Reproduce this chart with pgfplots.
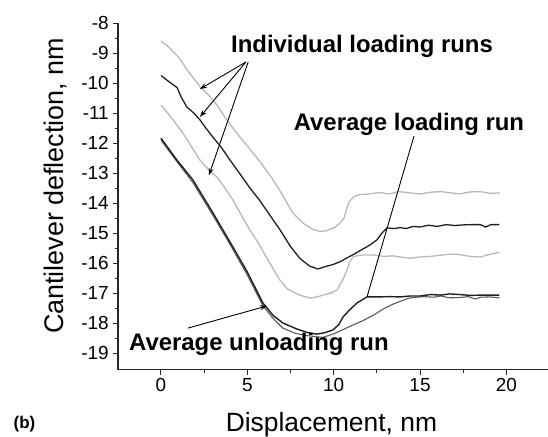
\documentclass[border=0pt]{standalone}
\usepackage{pgfplots}
\pgfplotsset{compat=1.18}
\usepackage{fontspec}
\setmainfont{Liberation Sans}
\usetikzlibrary{arrows.meta}

\definecolor{lightrun}{gray}{0.72}
\definecolor{darkrun}{gray}{0.12}
\definecolor{unloadrun}{gray}{0.35}

\begin{document}
\begin{tikzpicture}
\begin{axis}[
    x=17.27bp, y=30bp,
    xmin=-2.49, xmax=22.41, ymin=-19.56, ymax=-8,
    axis x line*=bottom, axis y line*=left,
    axis line style={line width=1.1pt, black!85},
    clip=false,
    xtick={0,5,10,15,20}, xticklabels={0,5,10,15,20},
    ytick={-19,-18,-17,-16,-15,-14,-13,-12,-11,-10,-9,-8},
    yticklabels={-19,-18,-17,-16,-15,-14,-13,-12,-11,-10,-9,-8},
    minor x tick num=1, minor y tick num=1,
    tick align=outside,
    major tick length=5bp, minor tick length=3bp,
    tick style={line width=1pt, black!85},
    ticklabel style={font=\fontsize{19}{21}\selectfont},
    xticklabel style={inner sep=1pt, yshift=-2bp},
    yticklabel style={inner sep=1pt, xshift=-3bp},
]
% individual loading run 1 (light)
\addplot[lightrun, line width=1.3pt] coordinates {
(0,-8.6) (0.35,-8.75) (0.7,-8.95) (1.1,-9.2) (1.5,-9.55) (1.9,-9.85) (2.3,-10.15) (2.75,-10.4) (3.2,-10.7) (3.6,-11.05) (4.1,-11.45) (4.5,-11.75) (5.0,-12.1) (5.5,-12.45) (5.9,-12.75) (6.4,-13.15) (6.9,-13.6) (7.3,-14.0) (7.6,-14.3) (8.0,-14.55) (8.3,-14.7) (8.8,-14.88) (9.2,-14.95) (9.6,-14.92) (10.1,-14.8) (10.4,-14.65) (10.6,-14.5) (10.75,-14.2) (10.9,-13.95) (11.2,-13.78) (11.5,-13.72) (12.0,-13.7) (12.7,-13.65) (13.2,-13.7) (13.8,-13.62) (14.4,-13.66) (15.0,-13.7) (15.6,-13.64) (16.2,-13.62) (16.8,-13.66) (17.3,-13.7) (17.9,-13.63) (18.5,-13.62) (19.1,-13.68) (19.6,-13.66)
};
% individual loading run 2 (dark)
\addplot[darkrun, line width=1.3pt] coordinates {
(0,-9.75) (0.45,-9.95) (0.93,-10.15) (1.2,-10.5) (1.5,-10.8) (1.9,-11.0) (2.26,-11.23) (2.6,-11.5) (3.0,-11.8) (3.5,-12.15) (4.0,-12.57) (4.6,-13.05) (5.15,-13.5) (5.7,-13.9) (6.3,-14.4) (6.9,-14.9) (7.5,-15.45) (8.05,-15.85) (8.6,-16.1) (9.1,-16.2) (9.5,-16.12) (9.96,-16.05) (10.4,-15.95) (10.77,-15.83) (11.2,-15.7) (11.64,-15.55) (12.1,-15.4) (12.5,-15.23) (12.8,-15.0) (13.1,-14.83) (13.5,-14.85) (13.84,-14.82) (14.2,-14.85) (14.6,-14.78) (15.0,-14.8) (15.5,-14.74) (16.0,-14.78) (16.5,-14.72) (17.0,-14.75) (17.5,-14.73) (18.0,-14.72) (18.5,-14.72) (18.8,-14.8) (19.1,-14.72) (19.6,-14.72)
};
% individual loading run 3 (light)
\addplot[lightrun, line width=1.3pt] coordinates {
(0,-10.73) (0.6,-11.15) (1.27,-11.67) (1.8,-12.15) (2.26,-12.57) (2.78,-12.9) (3.24,-13.13) (3.7,-13.5) (4.17,-13.9) (4.65,-14.4) (5.15,-14.9) (5.6,-15.3) (6.0,-15.7) (6.45,-16.15) (6.89,-16.57) (7.3,-16.85) (7.76,-17.0) (8.2,-17.1) (8.63,-17.17) (9.1,-17.12) (9.5,-17.05) (9.85,-17.0) (10.19,-16.9) (10.5,-16.6) (10.77,-16.23) (10.95,-15.95) (11.15,-15.78) (11.7,-15.73) (12.28,-15.73) (12.9,-15.78) (13.4,-15.76) (13.84,-15.8) (14.4,-15.84) (15.0,-15.8) (15.6,-15.78) (16.2,-15.74) (16.8,-15.7) (17.3,-15.72) (17.9,-15.78) (18.5,-15.8) (19.1,-15.7) (19.6,-15.64)
};
% average unloading run
\addplot[unloadrun, line width=1.1pt] coordinates {
(0,-11.9) (0.9,-12.6) (1.85,-13.32) (3.0,-14.4) (4.17,-15.55) (5.0,-16.4) (5.9,-17.42) (6.5,-17.85) (7.06,-18.17) (7.8,-18.35) (8.45,-18.42) (9.38,-18.48) (10.0,-18.36) (10.54,-18.22) (11.1,-18.07) (11.7,-17.92) (12.35,-17.72) (12.97,-17.5) (13.4,-17.38) (13.84,-17.28) (14.3,-17.18) (14.6,-17.15) (15.2,-17.12) (15.8,-17.14) (16.2,-17.1) (16.7,-17.16) (17.3,-17.15) (17.8,-17.12) (18.2,-17.2) (18.5,-17.14) (19.0,-17.13) (19.6,-17.16)
};
% average loading run
\addplot[darkrun, line width=1.4pt] coordinates {
(0,-11.84) (0.9,-12.55) (1.85,-13.23) (3.0,-14.32) (4.17,-15.47) (5.0,-16.3) (5.9,-17.33) (6.5,-17.75) (7.06,-18.0) (7.87,-18.2) (8.5,-18.32) (9.03,-18.37) (9.5,-18.32) (9.96,-18.23) (10.3,-18.05) (10.54,-17.8) (10.95,-17.55) (11.35,-17.33) (11.93,-17.13) (12.6,-17.13) (13.2,-17.12) (13.84,-17.13) (14.4,-17.1) (15.0,-17.1) (15.6,-17.05) (16.2,-17.07) (16.7,-17.03) (17.3,-17.05) (17.9,-17.08) (18.5,-17.07) (19.0,-17.07) (19.6,-17.07)
};
% annotations
\node[anchor=base, font=\bfseries\fontsize{24}{26}\selectfont] at (axis cs:11.64,-8.967) {Individual loading runs};
\draw[-{Stealth[length=7bp,width=5bp]}, line width=0.9pt] (axis cs:4.92,-9.3) -- (axis cs:2.26,-10.2);
\draw[-{Stealth[length=7bp,width=5bp]}, line width=0.9pt] (axis cs:4.92,-9.3) -- (axis cs:2.26,-11.13);
\draw[-{Stealth[length=7bp,width=5bp]}, line width=0.9pt] (axis cs:5.05,-9.3) -- (axis cs:2.78,-13.07);
\node[anchor=base, font=\bfseries\fontsize{24}{26}\selectfont] at (axis cs:14.36,-11.57) {Average loading run};
\draw[line width=0.9pt] (axis cs:14.65,-11.77) -- (axis cs:11.93,-17.13);
\node[anchor=base, font=\bfseries\fontsize{24}{26}\selectfont] at (axis cs:5.67,-18.93) {Average unloading run};
\draw[-{Stealth[length=7bp,width=5bp]}, line width=0.9pt] (axis cs:1.56,-18.17) -- (axis cs:6.14,-17.43);
% axis labels
\node[anchor=base, font=\fontsize{26.5}{28}\selectfont] at (axis cs:9.87,-21.63) {Displacement, nm};
\node[anchor=base, rotate=90, font=\fontsize{27}{29}\selectfont] at (axis cs:-5.67,-13.43) {Cantilever deflection, nm};
\node[anchor=base, font=\bfseries\fontsize{17}{19}\selectfont] at (axis cs:-7.9,-21.5) {(b)};
% page frame
\coordinate (bbA) at (axis cs:-9.32,-7.233);
\coordinate (bbB) at (axis cs:22.41,-21.767);
\end{axis}
\pgfresetboundingbox
\path[use as bounding box] (bbA) rectangle (bbB);
\end{tikzpicture}
\end{document}
